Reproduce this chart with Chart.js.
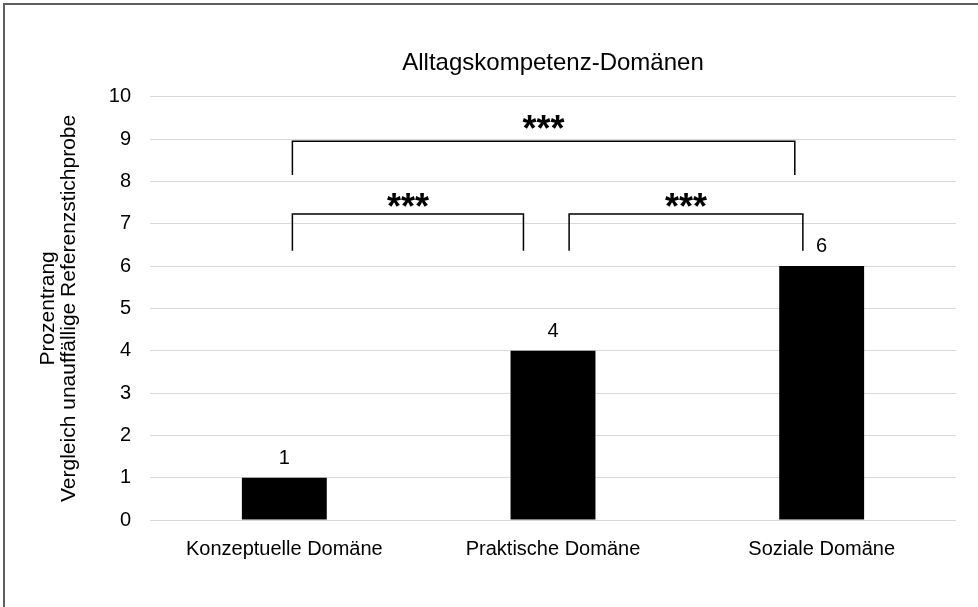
<!DOCTYPE html>
<html>
<head>
<meta charset="utf-8">
<script src="https://cdn.jsdelivr.net/npm/chart.js@4"></script>
<style>
  html, body { margin: 0; padding: 0; background: #ffffff; }
  #wrap { position: relative; width: 978px; height: 607px; }
</style>
</head>
<body>
<div id="wrap"><canvas id="domain-chart"></canvas></div>
<script>
// Kategorien und Werte (Prozentrang)
const categories = ['Konzeptuelle Domäne', 'Praktische Domäne', 'Soziale Domäne'];
const percentRanks = [1, 4, 6];
const yTicksMax = 10;

// Signifikanz-Klammern (x als Kategorie-Index, y in Skalenwerten)
const bracketFrom = [0.03, 0.03, 1.06];
const bracketTo = [1.9, 0.89, 1.93];
const bracketTop = [8.95, 7.23, 7.23];
const bracketFoot = [8.15, 6.36, 6.36];
const bracketStarBase = [8.95, 7.12, 7.12];
const bracketLabels = ['***', '***', '***'];

const FONT = "'Liberation Sans', Arial, sans-serif";
Chart.defaults.font.family = FONT;
Chart.defaults.color = '#000000';

const ctx = document.getElementById('domain-chart').getContext('2d');

new Chart(ctx, {
    type: 'bar',
    data: {
        labels: categories,
        datasets: [{
            data: percentRanks,
            backgroundColor: '#000000',
            borderWidth: 0,
            categoryPercentage: 0.316,
            barPercentage: 1.0,
        }]
    },
    options: {
        responsive: true,
        maintainAspectRatio: false,
        animation: false,
        layout: {
            padding: { top: 49, right: 22, bottom: 0, left: 0 }
        },
        plugins: {
            legend: { display: false },
            tooltip: { enabled: false },
            title: {
                display: true,
                text: 'Alltagskompetenz-Domänen',
                fullSize: false,
                color: '#000000',
                font: { size: 24, weight: 'normal', lineHeight: 1.2 },
                padding: { top: 0, bottom: 19 },
            },
        },
        scales: {
            x: {
                grid: { display: false },
                border: { display: false },
                ticks: {
                    color: '#000000',
                    font: { size: 20 },
                    padding: 9,
                    maxRotation: 0,
                    minRotation: 0,
                },
                afterFit: function (scale) { scale.height = 87; },
            },
            y: {
                min: 0,
                max: yTicksMax,
                ticks: {
                    stepSize: 1,
                    color: '#000000',
                    font: { size: 20 },
                    padding: 19,
                },
                grid: {
                    color: '#d9d9d9',
                    lineWidth: 1,
                    drawTicks: false,
                },
                border: { display: false },
                title: {
                    display: true,
                    text: ['Prozentrang', 'Vergleich unauffällige Referenzstichprobe'],
                    color: '#000000',
                    font: { size: 21, lineHeight: 1.0 },
                    padding: { top: 38, bottom: 0 },
                },
                afterFit: function (scale) { scale.width = 150; },
            },
        },
    },
    plugins: [
        {
            id: 'barValues',
            afterDatasetsDraw: function (chart) {
                const c = chart.ctx;
                const meta = chart.getDatasetMeta(0);
                c.save();
                c.font = '20px ' + FONT;
                c.fillStyle = '#000000';
                c.textAlign = 'center';
                c.textBaseline = 'alphabetic';
                meta.data.forEach(function (bar, i) {
                    c.fillText(String(percentRanks[i]), bar.x, bar.y - 14);
                });
                c.restore();
            }
        },
        {
            id: 'brackets',
            afterDraw: function (chart) {
                const c = chart.ctx;
                const xs = chart.scales.x;
                const ys = chart.scales.y;
                c.save();
                c.strokeStyle = '#000000';
                c.lineWidth = 1.5;
                c.fillStyle = '#000000';
                c.font = 'bold 36px ' + FONT;
                c.textAlign = 'center';
                c.textBaseline = 'alphabetic';
                for (let i = 0; i < bracketFrom.length; i++) {
                    const x1 = xs.getPixelForValue(bracketFrom[i]);
                    const x2 = xs.getPixelForValue(bracketTo[i]);
                    const yT = ys.getPixelForValue(bracketTop[i]);
                    const yF = ys.getPixelForValue(bracketFoot[i]);
                    c.beginPath();
                    c.moveTo(x1, yF);
                    c.lineTo(x1, yT);
                    c.lineTo(x2, yT);
                    c.lineTo(x2, yF);
                    c.stroke();
                    c.fillText(bracketLabels[i], (x1 + x2) / 2, ys.getPixelForValue(bracketStarBase[i]));
                }
                c.restore();
            }
        },
        {
            id: 'frame',
            afterDraw: function (chart) {
                const c = chart.ctx;
                c.save();
                c.strokeStyle = '#5f5f5f';
                c.lineWidth = 2;
                c.beginPath();
                c.moveTo(4, chart.height);
                c.lineTo(4, 4);
                c.lineTo(chart.width, 4);
                c.stroke();
                c.restore();
            }
        }
    ],
});
</script>
</body>
</html>
